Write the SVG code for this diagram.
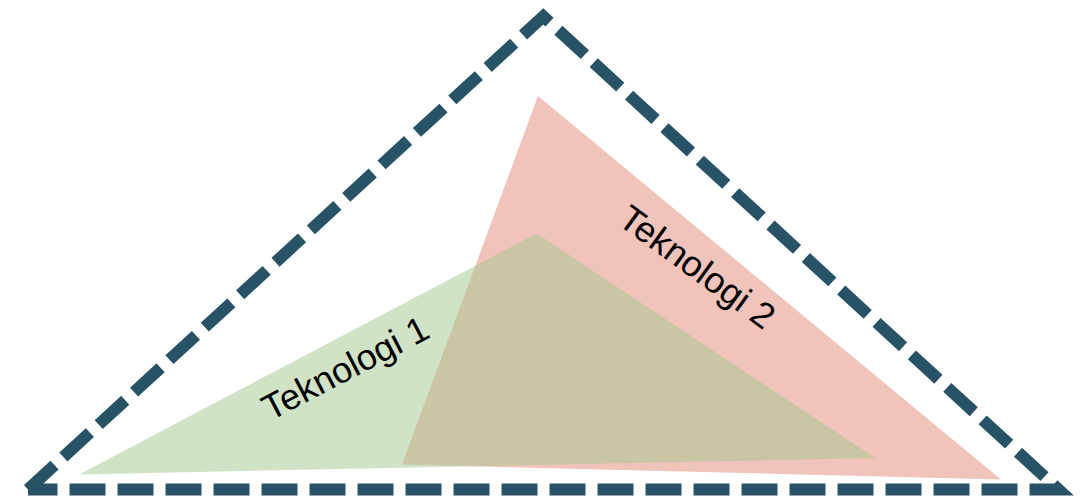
<svg xmlns="http://www.w3.org/2000/svg" width="1081" height="497" viewBox="0 0 1081 497">
  <style>
    .lbl { font-family: "Liberation Sans", Arial, sans-serif; font-size: 36px; fill: #000000; text-anchor: middle; }
    .frame { fill: none; stroke: #285366; stroke-width: 12; stroke-dasharray: 36 12; stroke-linejoin: miter; stroke-linecap: butt; }
  </style>
  <rect width="1081" height="497" fill="#ffffff"/>
  <g id="teknologi2">
    <polygon points="538,96 1001,479.5 402,464.5" fill="#f0c3bb"/>
  </g>
  <g id="teknologi1">
    <polygon points="536.5,233.5 875,458 79,474.5" fill="#a3c78d" fill-opacity="0.5"/>
  </g>
  <g id="connectors">
    <path class="frame" d="M28,489.5 L543.3,16.4 L1058.5,489.5 L28,489.5"/>
  </g>
  <g id="labels">
    <text class="lbl" x="351" y="379" transform="rotate(-27.6 351 379)">Teknologi 1</text>
    <text class="lbl" x="690" y="277" transform="rotate(36 690 277)">Teknologi 2</text>
  </g>
</svg>
